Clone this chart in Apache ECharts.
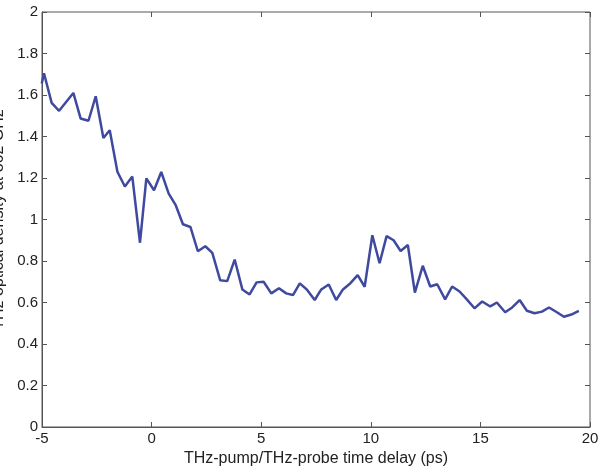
<!DOCTYPE html>
<html>
<head>
<meta charset="utf-8">
<script src="https://cdn.jsdelivr.net/npm/echarts@6/dist/echarts.min.js"></script>
<style>
  html, body { margin: 0; padding: 0; background: #fff; }
  #chart { width: 598px; height: 467px; }
</style>
</head>
<body>
<div id="chart"></div>
<script>
// time delay (ps) and optical density
const delay = [
  -5.01, -4.91, -4.56, -4.22, -3.57, -3.24, -2.88, -2.55, -2.20, -1.91,
  -1.56, -1.22, -0.88, -0.53, -0.24, 0.11, 0.44, 0.78, 1.10, 1.43,
  1.77, 2.11, 2.45, 2.77, 3.13, 3.45, 3.79, 4.14, 4.47, 4.79,
  5.11, 5.46, 5.81, 6.14, 6.45, 6.76, 7.08, 7.44, 7.74, 8.08,
  8.42, 8.73, 9.07, 9.40, 9.72, 10.07, 10.40, 10.72, 11.04, 11.36,
  11.69, 12.01, 12.37, 12.71, 13.03, 13.39, 13.71, 14.05, 14.38, 14.73,
  15.08, 15.45, 15.75, 16.13, 16.45, 16.79, 17.12, 17.47, 17.81, 18.13,
  18.49, 18.81, 19.15, 19.49
];
const density = [
  1.655, 1.705, 1.562, 1.524, 1.610, 1.487, 1.476, 1.594, 1.393, 1.430,
  1.230, 1.159, 1.207, 0.888, 1.198, 1.141, 1.229, 1.125, 1.069, 0.977,
  0.964, 0.847, 0.871, 0.839, 0.707, 0.703, 0.807, 0.663, 0.639, 0.697,
  0.700, 0.644, 0.669, 0.644, 0.636, 0.692, 0.663, 0.612, 0.663, 0.687,
  0.612, 0.663, 0.693, 0.732, 0.676, 0.924, 0.789, 0.920, 0.900, 0.848,
  0.877, 0.648, 0.777, 0.677, 0.688, 0.615, 0.677, 0.653, 0.615, 0.572,
  0.605, 0.581, 0.600, 0.553, 0.576, 0.612, 0.560, 0.548, 0.556, 0.576,
  0.553, 0.531, 0.542, 0.560
];

const chart = echarts.init(document.getElementById('chart'));

const textCol = '#222';
const axisCol = '#555';
const font = 'Liberation Sans, Arial, sans-serif';

const tickInside = { show: true, inside: true, length: 5, lineStyle: { color: axisCol } };

chart.setOption({
  animation: false,
  grid: {
    left: 42, right: 8, top: 12, bottom: 40,
    containLabel: false, outerBoundsMode: 'none',
    show: true, borderColor: axisCol, borderWidth: 1
  },
  xAxis: [
    {
      type: 'value', min: -5, max: 20, interval: 5,
      name: 'THz-pump/THz-probe time delay (ps)',
      nameLocation: 'middle', nameGap: 19,
      nameTextStyle: { color: textCol, fontSize: 16, fontFamily: font },
      axisLine: { show: true, onZero: false, lineStyle: { color: axisCol } },
      axisTick: tickInside,
      axisLabel: { color: textCol, fontSize: 15, fontFamily: font, margin: 4, showMaxLabel: true },
      splitLine: { show: false }
    },
    {
      type: 'value', min: -5, max: 20, interval: 5, position: 'top',
      axisLine: { show: false, onZero: false }, axisTick: tickInside,
      axisLabel: { show: false }, splitLine: { show: false }
    }
  ],
  yAxis: [
    {
      type: 'value', min: 0, max: 2, interval: 0.2,
      name: 'THz optical density at 862 GHz',
      nameLocation: 'middle', nameGap: 27,
      nameTextStyle: { color: textCol, fontSize: 16, fontFamily: font },
      axisLine: { show: true, onZero: false, lineStyle: { color: axisCol } },
      axisTick: tickInside,
      axisLabel: {
        color: textCol, fontSize: 15, fontFamily: font, margin: 4,
        formatter: v => String(Math.round(v * 10) / 10)
      },
      splitLine: { show: false }
    },
    {
      type: 'value', min: 0, max: 2, interval: 0.2, position: 'right',
      axisLine: { show: false, onZero: false }, axisTick: tickInside,
      axisLabel: { show: false }, splitLine: { show: false }
    }
  ],
  series: [{
    type: 'line',
    data: delay.map((x, i) => [x, density[i]]),
    showSymbol: false,
    lineStyle: { color: '#3f4a9e', width: 2.5 },
    itemStyle: { color: '#3f4a9e' }
  }]
});
</script>
</body>
</html>
